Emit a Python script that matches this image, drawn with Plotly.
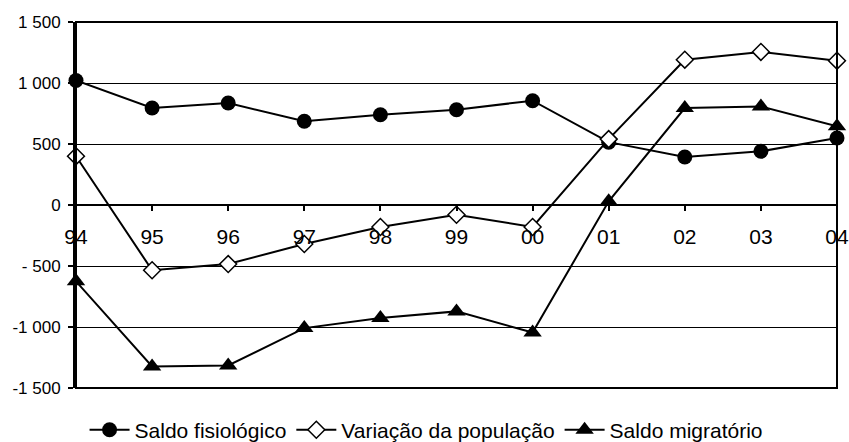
import plotly.graph_objects as go

# Years (two-digit labels) and yearly balances
anos = ["94", "95", "96", "97", "98", "99", "00", "01", "02", "03", "04"]
saldo_fisiologico = [1020, 795, 836, 686, 740, 781, 855, 515, 394, 440, 549]
variacao_populacao = [400, -535, -484, -320, -180, -80, -180, 540, 1191, 1255, 1183]
saldo_migratorio = [-626, -1323, -1315, -1009, -927, -872, -1045, 30, 795, 808, 645]

y_ticks = [-1500, -1000, -500, 0, 500, 1000, 1500]
y_labels = ["-1 500", "-1 000", "- 500", "0", "500", "1 000", "1 500"]

FONT = "Liberation Sans, Arial, sans-serif"

fig = go.Figure()

fig.add_trace(go.Scatter(
    x=anos, y=saldo_fisiologico, name="Saldo fisiológico",
    mode="lines+markers", cliponaxis=False,
    line=dict(color="black", width=2),
    marker=dict(symbol="circle", size=15, color="black"),
))
fig.add_trace(go.Scatter(
    x=anos, y=variacao_populacao, name="Variação da população",
    mode="lines+markers", cliponaxis=False,
    line=dict(color="black", width=2),
    marker=dict(symbol="diamond", size=13, color="white",
                line=dict(color="black", width=1.5)),
))
fig.add_trace(go.Scatter(
    x=anos, y=saldo_migratorio, name="Saldo migratório",
    mode="lines+markers", cliponaxis=False,
    line=dict(color="black", width=2),
    marker=dict(symbol="triangle-up", size=16, color="black"),
))

# Frame around the plotting area
fig.add_shape(type="rect", xref="x domain", yref="y domain",
              x0=0, x1=1, y0=0, y1=1, line=dict(color="black", width=2),
              layer="above")

fig.update_layout(
    width=849, height=442,
    margin=dict(l=76, r=12, t=22, b=54, autoexpand=False),
    paper_bgcolor="white", plot_bgcolor="white",
    font=dict(family=FONT, color="black"),
    showlegend=True,
    legend=dict(orientation="h", x=0.46, xanchor="center",
                y=-0.115, yanchor="middle",
                font=dict(size=21, family=FONT, color="black"),
                itemwidth=40, tracegroupgap=0),
    xaxis=dict(
        type="category", range=[0, 10],
        anchor="free", position=0.5,
        showline=True, linecolor="black", linewidth=2,
        ticks="outside", ticklen=5, tickcolor="black", tickwidth=1.5,
        showgrid=False, zeroline=False,
        tickfont=dict(size=21, family=FONT, color="black"),
        ticklabelstandoff=8,
    ),
    yaxis=dict(
        range=[-1500, 1500], tickvals=y_ticks, ticktext=y_labels,
        showline=True, linecolor="black", linewidth=3,
        ticks="outside", ticklen=5, tickcolor="black", tickwidth=1.5,
        showgrid=True, gridcolor="black", gridwidth=1,
        zeroline=False,
        tickfont=dict(size=17, family=FONT, color="black"),
        ticklabelstandoff=4,
    ),
)

fig.write_html("out.html")
